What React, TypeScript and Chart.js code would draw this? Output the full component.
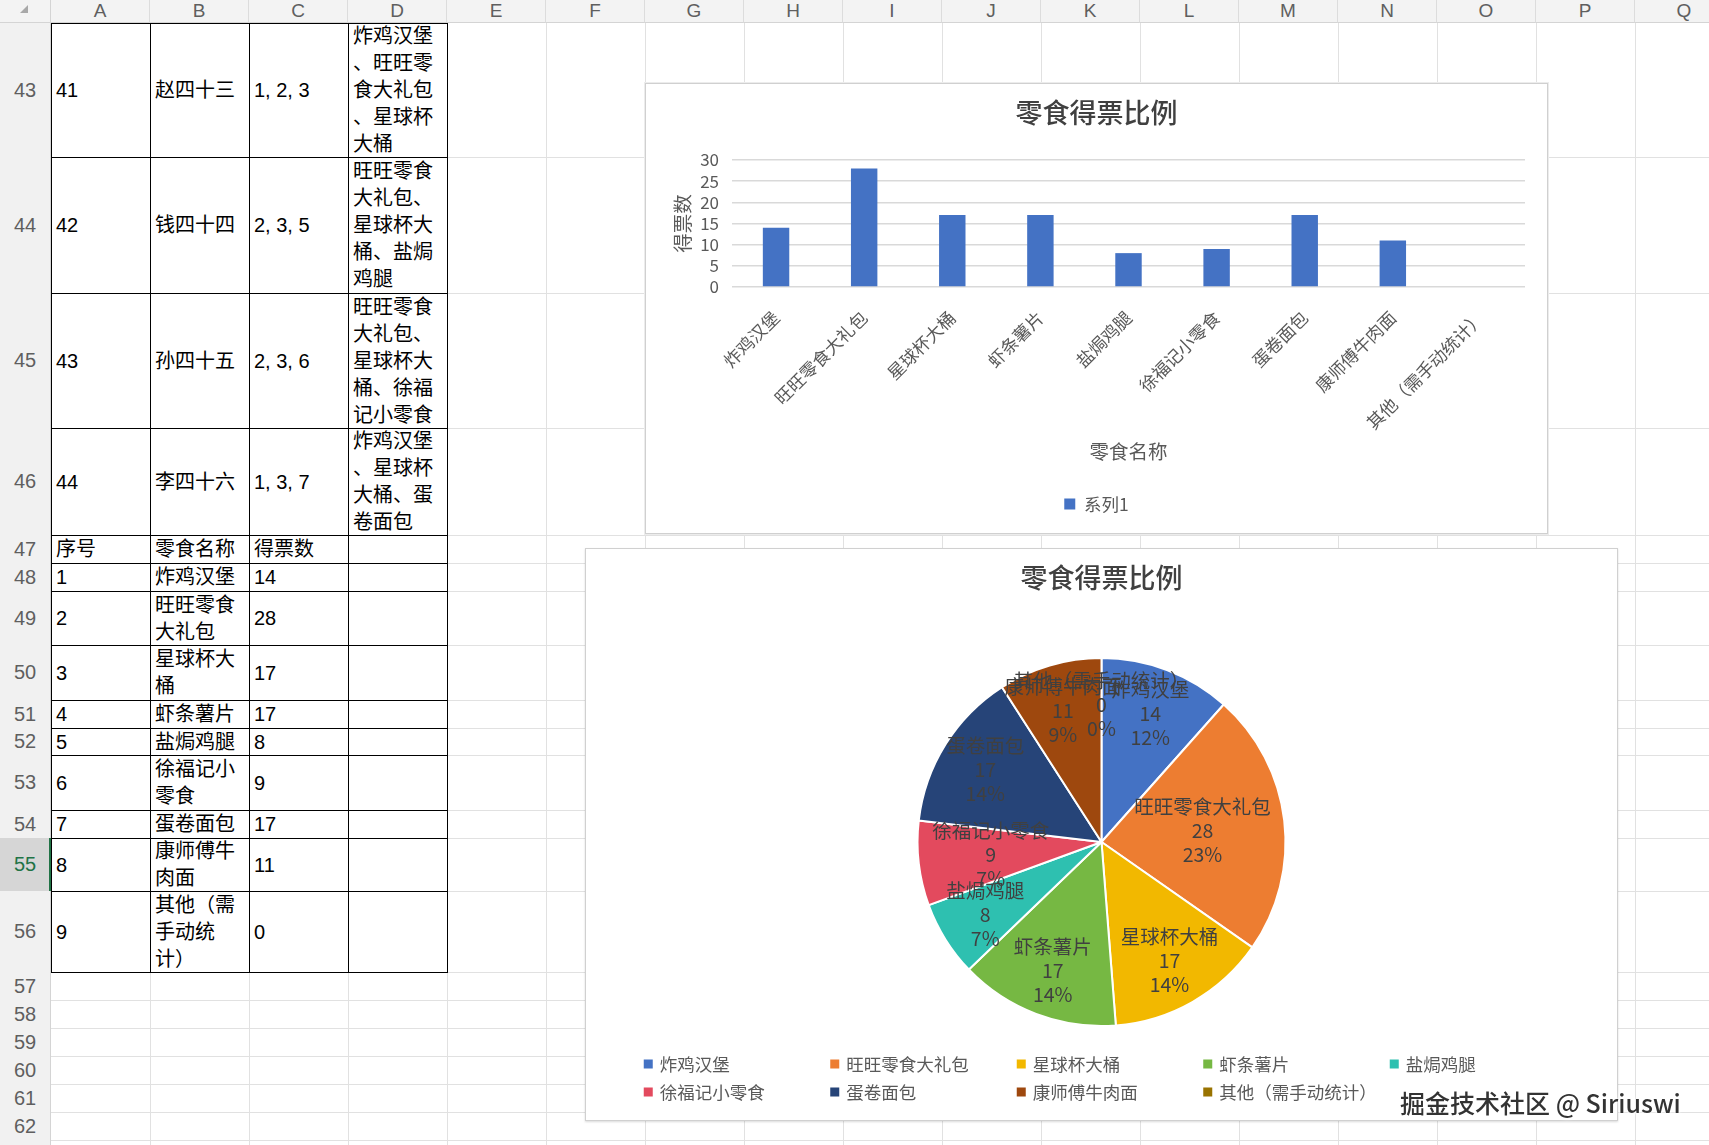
import React, { useEffect, useRef } from 'react';
import { Chart, registerables } from 'chart.js';
Chart.register(...registerables);

const FONT = '"Noto Sans CJK SC", "Noto Sans", sans-serif';
const CELL_FONT = '"Liberation Sans", "Noto Sans CJK SC", sans-serif';

// ---- data ----
const columnLetters = ['A', 'B', 'C', 'D', 'E', 'F', 'G', 'H', 'I', 'J', 'K', 'L', 'M', 'N', 'O', 'P', 'Q'];
const rowNumbers = [43, 44, 45, 46, 47, 48, 49, 50, 51, 52, 53, 54, 55, 56, 57, 58, 59, 60, 61, 62, 63];
const rowHeights = [134, 136, 135, 107, 28, 28, 54, 55, 28, 27, 55, 28, 53, 81, 28, 28, 28, 28, 28, 28, 28];

const voterIds = ['41', '42', '43', '44'];
const voterNames = ['赵四十三', '钱四十四', '孙四十五', '李四十六'];
const voterChoices = ['1, 2, 3', '2, 3, 5', '2, 3, 6', '1, 3, 7'];
const voterChoiceLines = [
  ['炸鸡汉堡', '、旺旺零', '食大礼包', '、星球杯', '大桶'],
  ['旺旺零食', '大礼包、', '星球杯大', '桶、盐焗', '鸡腿'],
  ['旺旺零食', '大礼包、', '星球杯大', '桶、徐福', '记小零食'],
  ['炸鸡汉堡', '、星球杯', '大桶、蛋', '卷面包'],
];
const tableHeaders = ['序号', '零食名称', '得票数'];

const snackNames = ['炸鸡汉堡', '旺旺零食大礼包', '星球杯大桶', '虾条薯片', '盐焗鸡腿', '徐福记小零食', '蛋卷面包', '康师傅牛肉面', '其他（需手动统计）'];
const snackNameLines = [
  ['炸鸡汉堡'], ['旺旺零食', '大礼包'], ['星球杯大', '桶'], ['虾条薯片'], ['盐焗鸡腿'],
  ['徐福记小', '零食'], ['蛋卷面包'], ['康师傅牛', '肉面'], ['其他（需', '手动统', '计）'],
];
const snackVotes = [14, 28, 17, 17, 8, 9, 17, 11, 0];

const chartTitle = '零食得票比例';
const barSeriesName = '系列1';
const xAxisTitle = '零食名称';
const yAxisTitle = '得票数';
const yMin = 0;
const yMax = 30;
const yStep = 5;

const barColor = '#4472C4';
const pieColors = ['#4472C4', '#ED7D31', '#F2B800', '#76B843', '#2EC0B0', '#E34A5E', '#264478', '#9E480E', '#997300'];

const watermark = '掘金技术社区 @ Siriuswi';

// ---- layout constants ----
const HDR_W = 51;
const HDR_H = 23;
const COL_W = 99;
const PAGE_W = 1709;
const PAGE_H = 1145;

function BarChart() {
  const ref = useRef<HTMLCanvasElement>(null);
  useEffect(() => {
    const chart = new Chart(ref.current as HTMLCanvasElement, {
      type: 'bar',
      data: {
        labels: snackNames,
        datasets: [{
          label: barSeriesName,
          data: snackVotes,
          backgroundColor: barColor,
          barPercentage: 0.3,
          categoryPercentage: 1,
        }],
      },
      options: {
        responsive: false,
        animation: false,
        layout: { padding: { left: 22, right: 22, top: 0, bottom: 10.25 } },
        plugins: {
          title: {
            display: true, text: chartTitle, color: '#404040',
            font: { size: 27, family: FONT, weight: '500' },
            padding: { top: 12.8, bottom: 30.8 },
          },
          legend: {
            position: 'bottom',
            labels: { boxWidth: 11, boxHeight: 11, padding: 10, color: '#595959', font: { size: 17.5, family: FONT } },
          },
          tooltip: { enabled: false },
        },
        scales: {
          x: {
            grid: { display: false, drawTicks: false },
            border: { display: false },
            ticks: { minRotation: 45, maxRotation: 45, autoSkip: false, padding: 20, color: '#595959', font: { size: 17.5, family: FONT } },
            title: { display: true, text: xAxisTitle, color: '#595959', font: { size: 19.5, family: FONT }, padding: { top: 0, bottom: 21.5 } },
            afterFit: (s: any) => { s.height = 198.25; },
          },
          y: {
            min: yMin, max: yMax,
            ticks: { stepSize: yStep, autoSkip: false, padding: 13, color: '#595959', font: { size: 17, family: FONT } },
            grid: { color: '#d9d9d9', lineWidth: 1.5, drawTicks: false },
            border: { display: false },
            title: { display: true, text: yAxisTitle, color: '#595959', font: { size: 19.5, family: FONT }, padding: { top: 2.8, bottom: 0 } },
            afterFit: (s: any) => { s.width = 64; },
          },
        },
      } as any,
    });
    return () => chart.destroy();
  }, []);
  return <canvas ref={ref} width={901} height={449} style={{ display: 'block' }} />;
}

const pieLabelPlugin = {
  id: 'pieLabelPlugin',
  afterDatasetsDraw(chart: any) {
    const ctx = chart.ctx;
    const meta = chart.getDatasetMeta(0);
    const values = chart.data.datasets[0].data as number[];
    const labels = chart.data.labels as string[];
    const total = values.reduce((a, b) => a + b, 0);
    ctx.save();
    ctx.font = `19.5px ${FONT}`;
    ctx.fillStyle = '#404040';
    ctx.textAlign = 'center';
    ctx.textBaseline = 'middle';
    meta.data.forEach((arc: any, i: number) => {
      const p = arc.getProps(['x', 'y', 'startAngle', 'endAngle', 'outerRadius'], true);
      const mid = (p.startAngle + p.endAngle) / 2;
      const lines = [labels[i], String(values[i]), Math.round((values[i] / total) * 100) + '%'];
      const half = Math.max(...lines.map((l) => ctx.measureText(l).width)) / 2;
      const cos = Math.cos(mid);
      const sin = Math.sin(mid);
      let r = p.outerRadius * 0.745;
      const limit = p.outerRadius * 0.92;
      if (Math.abs(r * cos) + half > limit) r = (limit - half) / Math.abs(cos);
      const cx = p.x + r * cos;
      const cy = p.y + r * sin;
      lines.forEach((l, k) => ctx.fillText(l, cx, cy + (k - 1) * 24));
    });
    ctx.restore();
  },
};

const pieLegendPlugin = {
  id: 'pieLegendPlugin',
  afterDraw(chart: any) {
    const ctx = chart.ctx;
    const labels = chart.data.labels as string[];
    const colors = chart.data.datasets[0].backgroundColor as string[];
    ctx.save();
    ctx.font = `17.5px ${FONT}`;
    const box = 9;
    const gap = 7;
    const spacing = 13;
    const perRow = 5;
    const rowPitch = 28;
    const itemW = box + gap + Math.max(...labels.map((l) => ctx.measureText(l).width));
    const colPitch = itemW + spacing;
    const gridW = (perRow - 1) * colPitch + itemW;
    const left0 = (chart.width - gridW) / 2 + 2;
    const top0 = chart.height - 56;
    labels.forEach((l, i) => {
      const col = i % perRow;
      const row = Math.floor(i / perRow);
      const x = left0 + col * colPitch;
      const y = top0 + row * rowPitch;
      ctx.fillStyle = colors[i];
      ctx.fillRect(x, y - box / 2, box, box);
      ctx.fillStyle = '#595959';
      ctx.textAlign = 'left';
      ctx.textBaseline = 'middle';
      ctx.fillText(l, x + box + gap, y);
    });
    ctx.restore();
  },
};

function PieChart() {
  const ref = useRef<HTMLCanvasElement>(null);
  useEffect(() => {
    const chart = new Chart(ref.current as HTMLCanvasElement, {
      type: 'pie',
      data: {
        labels: snackNames,
        datasets: [{
          data: snackVotes,
          backgroundColor: pieColors,
          borderColor: '#ffffff',
          borderWidth: 2,
        }],
      },
      options: {
        responsive: false,
        animation: false,
        radius: 184,
        layout: { padding: { left: 0, right: 0, top: 0, bottom: 40.2 } },
        plugins: {
          title: {
            display: true, text: chartTitle, color: '#404040',
            font: { size: 27, family: FONT, weight: '500' },
            padding: { top: 12.8, bottom: 10 },
          },
          legend: { display: false },
          tooltip: { enabled: false },
        },
      } as any,
      plugins: [pieLabelPlugin, pieLegendPlugin],
    });
    return () => chart.destroy();
  }, []);
  return <canvas ref={ref} width={1031} height={571} style={{ display: 'block' }} />;
}

function Sheet() {
  const tops: number[] = [];
  let acc = HDR_H;
  rowHeights.forEach((h) => { tops.push(acc); acc += h; });
  const els: React.ReactNode[] = [];

  // gridlines
  columnLetters.forEach((_, i) => {
    els.push(<div key={'vl' + i} style={{ position: 'absolute', left: HDR_W + (i + 1) * COL_W, top: HDR_H, width: 1, height: PAGE_H - HDR_H, background: '#e1e1e1' }} />);
  });
  tops.forEach((t, i) => {
    els.push(<div key={'hl' + i} style={{ position: 'absolute', left: HDR_W, top: t + rowHeights[i], width: PAGE_W - HDR_W, height: 1, background: '#e1e1e1' }} />);
  });

  // column headers
  els.push(
    <div key="corner" style={{ position: 'absolute', left: 0, top: 0, width: HDR_W, height: HDR_H, background: '#f3f3f3', borderRight: '1px solid #d4d4d4', borderBottom: '1px solid #d4d4d4', boxSizing: 'border-box' }}>
      <div style={{ position: 'absolute', left: 20, top: 5, width: 0, height: 0, borderLeft: '8px solid transparent', borderBottom: '8px solid #a8a8a8' }} />
    </div>
  );
  columnLetters.forEach((c, i) => {
    els.push(
      <div key={'ch' + i} style={{ position: 'absolute', left: HDR_W + i * COL_W, top: 0, width: COL_W, height: HDR_H, background: '#f3f3f3', borderRight: '1px solid #dcdcdc', borderBottom: '1px solid #d4d4d4', boxSizing: 'border-box', display: 'flex', alignItems: 'center', justifyContent: 'center', font: `19px ${CELL_FONT}`, color: '#5f5f5f' }}>{c}</div>
    );
  });

  // row headers
  rowNumbers.forEach((n, i) => {
    const active = n === 55;
    els.push(
      <div key={'rh' + i} style={{ position: 'absolute', left: 0, top: tops[i], width: HDR_W, height: rowHeights[i] + 1, background: active ? '#d6d6d6' : '#f1f1f1', borderBottom: '1px solid #dcdcdc', borderRight: '1px solid #d4d4d4', boxSizing: 'border-box', display: 'flex', alignItems: 'center', justifyContent: 'center', font: `20px ${CELL_FONT}`, color: active ? '#217346' : '#5f5f5f' }}>{n}</div>
    );
  });

  // table content
  const tableRows: string[][][] = [];
  voterIds.forEach((id, i) => {
    tableRows.push([[id], [voterNames[i]], [voterChoices[i]], voterChoiceLines[i]]);
  });
  tableRows.push([[tableHeaders[0]], [tableHeaders[1]], [tableHeaders[2]], []]);
  snackNames.forEach((_, i) => {
    tableRows.push([[String(i + 1)], snackNameLines[i], [String(snackVotes[i])], []]);
  });
  tableRows.forEach((cells, r) => {
    cells.forEach((lines, c) => {
      els.push(
        <div key={'c' + r + '_' + c} style={{ position: 'absolute', left: HDR_W + c * COL_W, top: tops[r], width: COL_W + 1, height: rowHeights[r] + 1, border: '1px solid #000', boxSizing: 'border-box', background: '#fff', display: 'flex', flexDirection: 'column', justifyContent: 'center', paddingLeft: 4, overflow: 'hidden', font: `20px/27px ${CELL_FONT}`, color: '#000', whiteSpace: 'nowrap' }}>
          {lines.map((l, k) => <div key={k}>{l}</div>)}
        </div>
      );
    });
  });

  // active row marker
  const activeIdx = rowNumbers.indexOf(55);
  els.push(<div key="sel" style={{ position: 'absolute', left: HDR_W - 2, top: tops[activeIdx], width: 2, height: rowHeights[activeIdx], background: '#217346' }} />);

  return <>{els}</>;
}

export default function App() {
  return (
    <div style={{ position: 'fixed', left: 0, top: 0, width: PAGE_W, height: PAGE_H, overflow: 'hidden', background: '#fff' }}>
      <Sheet />
      <div style={{ position: 'absolute', left: 645, top: 83, width: 903, height: 451, border: '1px solid #d0d0d0', boxSizing: 'border-box', background: '#fff', boxShadow: '0 0 0 1px #ececec' }}>
        <BarChart />
      </div>
      <div style={{ position: 'absolute', left: 585, top: 548, width: 1033, height: 573, border: '1px solid #d0d0d0', boxSizing: 'border-box', background: '#fff', boxShadow: '0 1px 2px rgba(0,0,0,0.15)' }}>
        <PieChart />
      </div>
      <div style={{ position: 'absolute', left: 1400, top: 1084, font: `500 25px ${FONT}`, color: '#333', whiteSpace: 'nowrap', textShadow: '0 0 2px #fff, 0 0 3px #fff, 0 0 4px #fff' }}>{watermark}</div>
    </div>
  );
}
